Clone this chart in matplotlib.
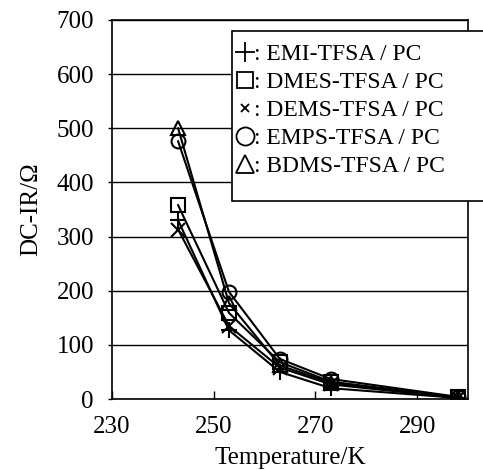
import matplotlib
matplotlib.use("Agg")
import matplotlib.pyplot as plt
from matplotlib.lines import Line2D
from matplotlib.patches import Rectangle

plt.rcParams['font.family'] = ['Liberation Serif', 'DejaVu Serif']

temps = [243, 253, 263, 273, 298]
labels = [": EMI-TFSA / PC", ": DMES-TFSA / PC", ": DEMS-TFSA / PC",
          ": EMPS-TFSA / PC", ": BDMS-TFSA / PC"]
markers = ['+', 's', 'x', 'o', '^']
emi = [330, 127, 50, 20, 2]
dmes = [358, 159, 68, 32, 3]
dems = [313, 135, 58, 27, 2]
emps = [476, 198, 74, 37, 4]
bdms = [500, 177, 62, 30, 3]
series = [emi, dmes, dems, emps, bdms]
msizes = [12, 9.5, 9.5, 10, 10]
xticks = [230, 250, 270, 290]
yticks = [0, 100, 200, 300, 400, 500, 600, 700]

W, H = 483, 470
fig = plt.figure(figsize=(W/100, H/100), dpi=100)
ax = fig.add_axes([112/W, 1-399/H, 356/W, 379/H])

for vals, m, ms in zip(series, markers, msizes):
    ax.plot(temps, vals, color='black', lw=1.5, marker=m, ms=ms,
            mfc='none', mec='black', mew=1.5, zorder=3)

ax.set_xlim(230, 300)
ax.set_ylim(0, 700)
ax.set_xticks(xticks)
ax.set_yticks(yticks)
ax.yaxis.grid(True, color='black', lw=1.0)
ax.set_axisbelow(True)
ax.tick_params(axis='x', direction='in', length=6, width=1, labelsize=18, pad=12)
ax.tick_params(axis='y', direction='out', length=3, width=1, labelsize=18, pad=10)
for s in ax.spines.values():
    s.set_linewidth(1.2)
ax.set_xlabel("Temperature/K", fontsize=18, labelpad=7)
ax.set_ylabel("DC-IR/Ω", fontsize=18, labelpad=10)

# legend box
fig.patches.append(Rectangle((232/W, 1-201/H), (495-232)/W, (201-31)/H,
                             transform=fig.transFigure, facecolor='white',
                             edgecolor='black', lw=1.2, zorder=5))
handles = []
for m, ms in zip(markers, [14, 12, 6, 13, 13]):
    handles.append(Line2D([], [], ls='none', marker=m, ms=ms, mfc='none',
                          mec='black', mew=1.3))
leg = fig.legend(handles, labels, loc='upper left',
                 bbox_to_anchor=(234/W, 1-41/H), borderaxespad=0,
                 fontsize=17, frameon=False,
                 handlelength=0.75, handletextpad=0.0, labelspacing=0.28,
                 borderpad=0.1)
leg.set_zorder(6)

fig.savefig("out.png", dpi=100)
